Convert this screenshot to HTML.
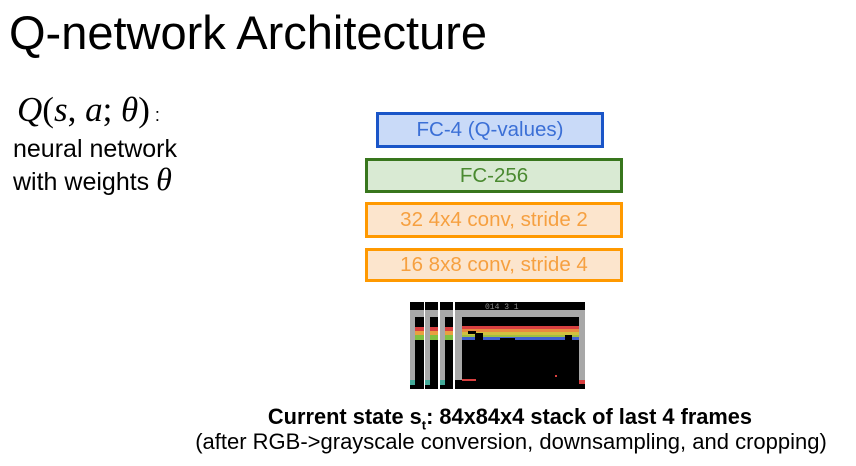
<!DOCTYPE html>
<html><head><meta charset="utf-8"><style>
body{margin:0;width:856px;height:466px;background:#fff;position:relative;overflow:hidden;font-family:"Liberation Sans",sans-serif}
.a{position:absolute;white-space:nowrap}
.box{position:absolute;box-sizing:border-box;border:3px solid;display:flex;align-items:center;justify-content:center;font-size:20.5px}
</style></head><body>
<div class="a" style="left:9px;top:5px;font-size:47px;color:#000">Q-network Architecture</div>
<div class="a" style="left:17px;top:90px;font-family:'Liberation Serif',serif;font-style:italic;font-size:35px">Q<span style="font-style:normal">(</span>s<span style="font-style:normal">,</span> a<span style="font-style:normal">;</span> θ<span style="font-style:normal">)</span><span style="font-style:normal;font-size:18px;font-family:'Liberation Sans',sans-serif"> :</span></div>
<div class="a" style="left:13px;top:134px;font-size:25px;line-height:30px">neural network<br>with weights <span style="font-family:'Liberation Serif',serif;font-style:italic;font-size:32px">θ</span></div>
<div class="box" style="left:376px;top:112px;width:228px;height:36px;border-color:#1a55c8;background:#c9daf8;color:#3b6fd6">FC-4 (Q-values)</div>
<div class="box" style="left:365px;top:158px;width:258px;height:35px;border-color:#38761d;background:#d9ead3;color:#4a8a30">FC-256</div>
<div class="box" style="left:365px;top:202px;width:258px;height:36px;border-color:#ff9900;background:#fce5cd;color:#f6a040">32 4x4 conv, stride 2</div>
<div class="box" style="left:365px;top:248px;width:258px;height:34px;border-color:#ff9900;background:#fce5cd;color:#f6a040">16 8x8 conv, stride 4</div>
<svg class="a" style="left:0;top:0" width="856" height="466">
<g>
<rect x="410" y="302" width="14" height="87" fill="#000"/><rect x="410" y="310" width="14" height="70" fill="#a8a8a8"/><rect x="415" y="317" width="9" height="63" fill="#000"/><rect x="415" y="327" width="9" height="4" fill="#d84040"/><rect x="415" y="331" width="9" height="4" fill="#e8a040"/><rect x="415" y="335" width="9" height="5" fill="#80c040"/><rect x="410" y="380" width="5" height="5" fill="#4a9"/>
<rect x="425" y="302" width="13" height="87" fill="#000"/><rect x="425" y="310" width="13" height="70" fill="#a8a8a8"/><rect x="430" y="317" width="8" height="63" fill="#000"/><rect x="430" y="327" width="8" height="4" fill="#d84040"/><rect x="430" y="331" width="8" height="4" fill="#e8a040"/><rect x="430" y="335" width="8" height="5" fill="#80c040"/><rect x="425" y="380" width="5" height="5" fill="#4a9"/>
<rect x="440" y="302" width="13" height="87" fill="#000"/><rect x="440" y="310" width="13" height="70" fill="#a8a8a8"/><rect x="445" y="317" width="8" height="63" fill="#000"/><rect x="445" y="327" width="8" height="4" fill="#d84040"/><rect x="445" y="331" width="8" height="4" fill="#e8a040"/><rect x="445" y="335" width="8" height="5" fill="#80c040"/><rect x="440" y="380" width="5" height="5" fill="#4a9"/>
<rect x="455" y="302" width="130" height="87" fill="#000"/>
<rect x="455" y="310" width="130" height="70" fill="#a8a8a8"/>
<rect x="462" y="317" width="117" height="63" fill="#000"/>
<rect x="462" y="326" width="117" height="3" fill="#d84040"/>
<rect x="462" y="329" width="117" height="3" fill="#e88a40"/>
<rect x="462" y="332" width="117" height="3" fill="#d0c040"/>
<rect x="462" y="335" width="117" height="2" fill="#a0c040"/>
<rect x="462" y="337" width="117" height="3" fill="#4060d0"/>
<rect x="475" y="333" width="8" height="47" fill="#000"/>
<rect x="500" y="338" width="15" height="42" fill="#000"/>
<rect x="565" y="335" width="7" height="45" fill="#000"/>
<rect x="468" y="331" width="8" height="3" fill="#000"/>
<rect x="579" y="380" width="6" height="4" fill="#d84040"/>
<rect x="462" y="379" width="14" height="2" fill="#d84040"/>
<rect x="555" y="375" width="2" height="2" fill="#d84040"/>
<text x="485" y="309" font-size="8" fill="#888" font-family="Liberation Mono">014 3  1</text>
</g>
</svg>
<div class="a" style="left:0;width:1020px;top:404px;text-align:center;font-size:21.8px;font-weight:bold">Current state s<sub style="font-size:13px">t</sub>: 84x84x4 stack of last 4 frames</div>
<div class="a" style="left:0;width:1022px;top:429px;text-align:center;font-size:22px">(after RGB-&gt;grayscale conversion, downsampling, and cropping)</div>
</body></html>
